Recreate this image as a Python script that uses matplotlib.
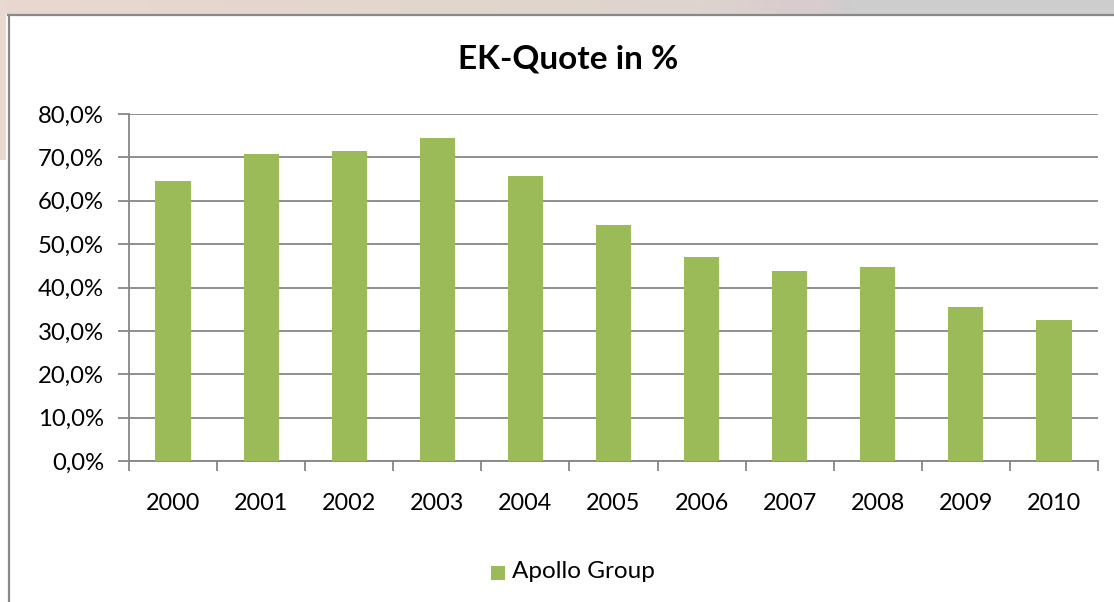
import numpy as np
import matplotlib
matplotlib.use("Agg")
import matplotlib.pyplot as plt
from matplotlib.patches import Rectangle
from matplotlib.lines import Line2D
from matplotlib.ticker import FuncFormatter, MultipleLocator

years = ["2000", "2001", "2002", "2003", "2004", "2005",
         "2006", "2007", "2008", "2009", "2010"]
ek_quote = [64.5, 70.8, 71.4, 74.4, 65.8, 54.3, 47.1, 43.7, 44.8, 35.4, 32.6]
series_name = "Apollo Group"
title = "EK-Quote in %"

W, H = 1114, 602
bar_color = "#9BBB59"
grid_color = "#868686"
font = ["Lato", "DejaVu Sans"]
plt.rcParams["font.family"] = font

fig = plt.figure(figsize=(W / 100, H / 100), dpi=100)
fig.patch.set_facecolor("white")

# window-style frame around the chart: tinted band on top, grey edges
band = fig.add_axes([0, 1 - 14 / H, 1, 14 / H])
stops_x = np.array([0, 300, 500, 700, 800, 820, 850, 1114]) / W
stops_c = np.array([
    [232, 216, 208], [228, 214, 206], [224, 214, 204], [221, 212, 207],
    [216, 204, 206], [216, 204, 206], [205, 205, 205], [205, 205, 205],
]) / 255.0
xs = np.linspace(0, 1, W)
grad = np.stack([np.interp(xs, stops_x, stops_c[:, k]) for k in range(3)], axis=-1)
band.imshow(grad[np.newaxis, :, :], aspect="auto", extent=[0, 1, 0, 1])
band.set_axis_off()

fig.patches.append(Rectangle((0, 1 - 160 / H), 6 / W, 160 / H,
                             transform=fig.transFigure, facecolor=(232 / 255, 216 / 255, 208 / 255),
                             edgecolor="none", zorder=0))
fig.lines.append(Line2D([8 / W, 1], [1 - 15 / H, 1 - 15 / H], transform=fig.transFigure,
                        color="#888888", lw=1.6))
fig.lines.append(Line2D([9 / W, 9 / W], [0, 1 - 15 / H], transform=fig.transFigure,
                        color="#888888", lw=1.6))

# plot area
left, right = 129 / W, 1098 / W
bottom, top = 1 - 461 / H, 1 - 114 / H
ax = fig.add_axes([left, bottom, right - left, top - bottom])

x = np.arange(len(years))
ax.bar(x, ek_quote, width=0.4, color=bar_color, zorder=3)

ax.set_xlim(-0.5, len(years) - 0.5)
ax.set_ylim(0, 80)
ax.yaxis.set_major_locator(MultipleLocator(10))
ax.yaxis.set_major_formatter(FuncFormatter(lambda v, _: f"{v:.1f}%".replace(".", ",")))
ax.yaxis.grid(True, color=grid_color, lw=1.3, zorder=1)
ax.set_axisbelow(True)

# category boundaries carry the tick marks, labels sit at the centres
ax.set_xticks(np.arange(-0.5, len(years)), labels=[""] * (len(years) + 1))
ax.set_xticks(x, labels=years, minor=True)
ax.tick_params(axis="x", which="major", direction="out", length=7, width=1.3, color=grid_color)
ax.tick_params(axis="x", which="minor", length=0, pad=23, labelsize=16.8)
ax.tick_params(axis="y", direction="out", length=8, width=1.3, color=grid_color,
               labelsize=17.2, pad=10)

for side in ("top", "right"):
    ax.spines[side].set_visible(False)
for side in ("left", "bottom"):
    ax.spines[side].set_color(grid_color)
    ax.spines[side].set_linewidth(1.3)

fig.text(568 / W, 1 - 59 / H, title, ha="center", va="center",
         fontsize=24, fontweight="bold", family=font)

fig.patches.append(Rectangle((491 / W, 1 - 580 / H), 14 / W, 14 / H,
                             transform=fig.transFigure, facecolor=bar_color, edgecolor="none"))
fig.text(512 / W, 1 - 572 / H, series_name, ha="left", va="center", fontsize=17.5, family=font)

fig.savefig("out.png", dpi=100, facecolor="white")
